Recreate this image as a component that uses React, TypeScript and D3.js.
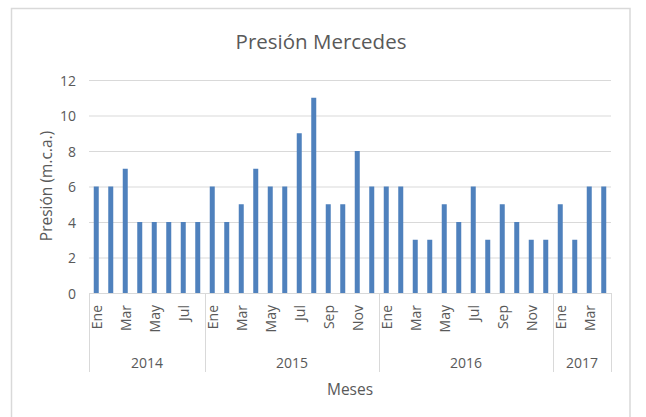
import React from "react";
import * as d3 from "d3";

const years = ["2014", "2015", "2016", "2017"];
const monthsPerYear = [8, 12, 12, 4];
const monthNames = ["Ene", "Feb", "Mar", "Abr", "May", "Jun", "Jul", "Ago", "Sep", "Oct", "Nov", "Dic"];
const values2014 = [6, 6, 7, 4, 4, 4, 4, 4];
const values2015 = [6, 4, 5, 7, 6, 6, 9, 11, 5, 5, 8, 6];
const values2016 = [6, 6, 3, 3, 5, 4, 6, 3, 5, 4, 3, 3];
const values2017 = [5, 3, 6, 6];
const yTicks = [0, 2, 4, 6, 8, 10, 12];

const W = 646;
const H = 417;
const FONT = "'Open Sans', 'Noto Sans', sans-serif";
const TEXT = "#595959";
const GRID = "#d9d9d9";
const BAR = "#4f81bd";

type Cat = { year: string; month: string; value: number; idx: number };

export default function App() {
  const seriesByYear = [values2014, values2015, values2016, values2017];
  const cats: Cat[] = [];
  seriesByYear.forEach((vals, yi) => {
    vals.forEach((v, mi) => {
      cats.push({ year: years[yi], month: monthNames[mi], value: v, idx: cats.length });
    });
  });

  const left = 89;
  const right = 611;
  const top = 80;
  const bottom = 293;

  const x = d3
    .scaleBand<number>()
    .domain(cats.map((c) => c.idx))
    .range([left, right])
    .paddingInner(0)
    .paddingOuter(0);
  const y = d3.scaleLinear().domain([0, 12]).range([bottom, top]);
  const bw = x.bandwidth() * 0.345;

  const groupStarts: number[] = [];
  let acc = 0;
  monthsPerYear.forEach((n) => {
    groupStarts.push(acc);
    acc += n;
  });

  return (
    <svg
      width={W}
      height={H}
      style={{ position: "absolute", left: 0, top: 0, background: "#fff" }}
      fontFamily={FONT}
    >
      <rect x={0} y={0} width={W} height={H} fill="#fff" />
      <rect x={11.5} y={8.5} width={618.5} height={430} fill="#fff" stroke={GRID} strokeWidth={1.5} />

      <text x={321} y={49} textAnchor="middle" fontSize={20.5} fill={TEXT}>
        Presión Mercedes
      </text>

      {yTicks.map((t) => (
        <g key={t}>
          {t !== 0 && (
            <line x1={left} x2={right} y1={y(t) + 0.5} y2={y(t) + 0.5} stroke={GRID} strokeWidth={1} />
          )}
          <text x={76} y={y(t)} textAnchor="end" dominantBaseline="central" fontSize={14} fill={TEXT}>
            {t}
          </text>
        </g>
      ))}

      {cats.map((c) => (
        <rect
          key={c.idx}
          x={(x(c.idx) as number) + (x.bandwidth() - bw) / 2}
          y={y(c.value)}
          width={bw}
          height={y(0) - y(c.value)}
          fill={BAR}
        />
      ))}

      <line x1={left} x2={right} y1={bottom + 0.5} y2={bottom + 0.5} stroke={GRID} strokeWidth={1} />
      {[...groupStarts, cats.length].map((s, i) => {
        const xx = s === cats.length ? right : (x(s) as number);
        return (
          <line key={i} x1={xx + 0.5} x2={xx + 0.5} y1={bottom} y2={372} stroke={GRID} strokeWidth={1} />
        );
      })}

      {cats
        .filter((c) => c.idx % 2 === 0)
        .map((c) => {
          const cx = (x(c.idx) as number) + x.bandwidth() / 2;
          return (
            <text
              key={c.idx}
              transform={`translate(${cx},${305}) rotate(-90)`}
              textAnchor="end"
              dominantBaseline="central"
              fontSize={14}
              fill={TEXT}
            >
              {c.month}
            </text>
          );
        })}

      {years.map((yr, i) => {
        const s = groupStarts[i];
        const e = s + monthsPerYear[i];
        const x0 = x(s) as number;
        const x1 = e === cats.length ? right : (x(e) as number);
        return (
          <text key={yr} x={(x0 + x1) / 2} y={362} textAnchor="middle" dominantBaseline="central" fontSize={14} fill={TEXT}>
            {yr}
          </text>
        );
      })}

      <text x={350} y={389} textAnchor="middle" dominantBaseline="central" fontSize={15.5} fill={TEXT}>
        Meses
      </text>

      <text
        transform={`translate(${46},${186}) rotate(-90)`}
        textAnchor="middle"
        dominantBaseline="central"
        fontSize={15.5}
        fill={TEXT}
      >
        Presión (m.c.a.)
      </text>
    </svg>
  );
}
